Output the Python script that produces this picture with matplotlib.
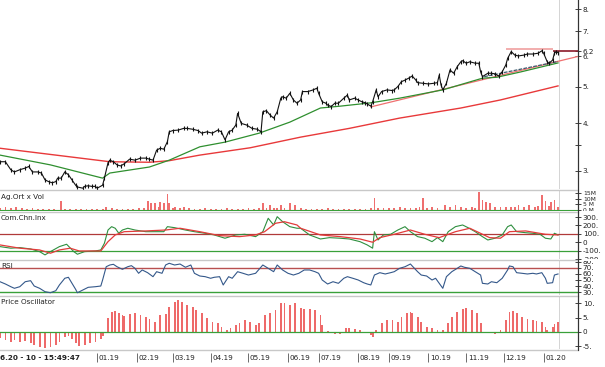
import numpy as np
import matplotlib
matplotlib.use("Agg")
import matplotlib.pyplot as plt
from matplotlib.transforms import Bbox, TransformedBbox

# ---- data ----
# trading-day index, closing price
price_day = [0, 3, 6, 8, 11, 14, 16, 18, 21, 23, 25, 27, 29, 31, 32, 34, 36, 38, 40, 42, 43, 46, 47, 49, 51,
             53, 54, 57, 58, 60, 61, 63, 65, 67, 69, 72, 75, 78, 81, 83, 85, 87, 89, 91, 93, 94, 96, 99,
             102, 104, 107, 110, 112, 115, 118, 121, 123, 125, 127, 129, 131, 132, 134, 137, 140, 143, 145,
             146, 148, 150, 152, 154, 156, 157, 159, 161, 163, 165, 167, 168, 171, 174, 176, 177, 179, 181,
             182, 184, 186, 188, 191, 193, 194, 197, 199, 201, 203, 204, 206, 207, 209, 210, 212, 215, 218,
             219, 221, 223, 225, 227, 229, 231, 232, 235, 238, 241, 243, 244, 245, 246, 248, 250, 252, 254,
             256, 257, 259, 261, 264, 266, 267, 268, 271, 273, 275, 277, 279, 281, 282, 284, 286, 288, 291,
             293, 296, 299, 301, 302, 304, 305, 307, 308, 309, 310]
price = [3.17, 3.17, 3.02, 2.98, 3.02, 3.05, 3.08, 2.98, 2.98, 2.96, 2.84, 2.81, 2.79, 2.81, 2.87, 2.87,
         2.98, 2.93, 2.84, 2.75, 2.72, 2.70, 2.73, 2.74, 2.73, 2.73, 2.70, 2.75, 2.87, 3.15, 3.20, 3.17,
         3.11, 3.09, 3.13, 3.22, 3.20, 3.24, 3.24, 3.22, 3.20, 3.40, 3.44, 3.42, 3.58, 3.80, 3.83, 3.84,
         3.88, 3.88, 3.86, 3.83, 3.77, 3.80, 3.77, 3.84, 3.80, 3.62, 3.80, 3.84, 3.96, 4.25, 4.00, 3.96,
         3.88, 3.86, 3.80, 4.29, 4.32, 4.21, 4.13, 4.29, 4.66, 4.70, 4.66, 4.80, 4.61, 4.52, 4.61, 4.85,
         4.85, 4.90, 4.95, 4.80, 4.56, 4.52, 4.47, 4.43, 4.52, 4.52, 4.66, 4.75, 4.61, 4.66, 4.61, 4.56,
         4.53, 4.50, 4.44, 4.56, 4.90, 4.70, 4.85, 4.90, 4.88, 4.90, 5.00, 5.15, 5.20, 5.26, 5.33, 5.20,
         5.12, 5.10, 5.08, 5.10, 5.12, 5.36, 5.05, 4.90, 5.10, 5.53, 5.42, 5.64, 5.81, 5.85, 5.76, 5.81,
         5.76, 5.76, 5.47, 5.31, 5.42, 5.42, 5.40, 5.33, 5.47, 5.70, 5.93, 6.18, 6.05, 6.02, 6.05, 6.09,
         6.09, 6.12, 6.21, 6.12, 5.81, 5.76, 5.87, 6.12, 6.18, 6.14]

ma_short_day = [0, 28, 57, 61, 83, 94, 111, 125, 144, 161, 178, 189, 206, 222, 246, 268, 276, 289, 310]
ma_short = [3.30, 3.11, 2.87, 2.96, 3.07, 3.20, 3.47, 3.57, 3.77, 4.03, 4.39, 4.44, 4.53, 4.66, 4.90,
            5.26, 5.29, 5.46, 5.77]
ma_long_day = [0, 61, 83, 94, 111, 139, 167, 194, 222, 256, 278, 310]
ma_long = [3.44, 3.17, 3.16, 3.19, 3.30, 3.45, 3.68, 3.88, 4.13, 4.39, 4.61, 5.02]

trend_day = [206, 321]
trend = [4.42, 6.00]
support_day = [269, 310]
support = [5.31, 5.82]
resist_day = [281, 307]
resist_level = 6.26
last_level = 6.2

price_ticks = [3, 3.5, 4, 5, 6, 6.2, 7, 8]
price_labels = ["3.", "", "4.", "5.", "6.", "6.2", "7.", "8."]

vol_day = [0, 3, 6, 9, 12, 15, 18, 21, 24, 27, 30, 34, 36, 39, 42, 45, 48, 51, 54, 57, 59, 62, 65, 68,
           71, 74, 77, 80, 82, 84, 86, 88, 89, 91, 93, 94, 96, 97, 100, 102, 105, 108, 111, 114, 117,
           120, 123, 126, 129, 132, 135, 138, 141, 144, 146, 148, 150, 152, 154, 156, 158, 161, 164,
           167, 170, 173, 176, 179, 182, 185, 188, 191, 194, 197, 200, 203, 206, 208, 210, 213, 216,
           219, 222, 225, 228, 231, 233, 235, 237, 240, 243, 247, 250, 253, 256, 259, 262, 264, 266,
           268, 270, 272, 275, 278, 281, 284, 286, 288, 291, 294, 297, 299, 301, 303, 305, 306, 308, 310]
vol = [2.0, 2.5, 1.5, 2.2, 1.8, 1.2, 1.5, 1.0, 1.3, 1.0, 1.2, 8.0, 1.0, 0.8, 1.0, 0.8, 0.7, 0.8, 0.9,
       1.2, 2.9, 1.5, 1.0, 1.2, 0.8, 1.0, 1.5, 2.0, 8.0, 6.0, 6.0, 2.5, 7.3, 6.0, 14.0, 6.0, 2.0, 3.0,
       2.0, 3.0, 1.5, 1.2, 1.0, 1.5, 1.2, 1.0, 1.3, 1.5, 1.0, 1.2, 1.0, 1.5, 1.2, 2.0, 6.0, 2.0, 4.4,
       1.5, 2.0, 4.4, 2.0, 6.0, 4.4, 1.5, 1.2, 1.0, 1.2, 1.0, 1.5, 1.0, 1.2, 1.0, 0.8, 1.0, 1.2, 1.0,
       1.5, 11.0, 2.0, 1.5, 2.0, 1.5, 2.5, 2.0, 1.5, 2.0, 2.5, 11.0, 2.0, 2.5, 2.0, 4.4, 2.5, 4.4, 3.0,
       2.0, 2.5, 2.0, 15.6, 9.0, 7.3, 6.0, 3.0, 2.5, 3.0, 2.5, 3.0, 4.4, 3.0, 4.4, 3.0, 3.5, 13.0, 8.0,
       3.5, 7.0, 9.0, 3.0]

cci_day = [0, 6, 11, 17, 22, 25, 28, 33, 37, 41, 43, 47, 53, 56, 58, 60, 62, 64, 66, 68, 71, 75, 81,
           86, 91, 93, 97, 103, 108, 114, 119, 125, 131, 136, 142, 146, 149, 152, 154, 157, 161, 165,
           167, 172, 178, 183, 189, 194, 200, 204, 207, 208, 210, 213, 217, 221, 225, 228, 232, 236,
           240, 243, 246, 249, 253, 257, 260, 264, 268, 271, 275, 279, 282, 284, 287, 292, 296, 300,
           303, 306, 308, 310]
cci = [-52, -71, -64, -80, -112, -151, -112, -52, -24, -112, -143, -112, -104, -92, -12, 146, 186, 167,
       107, 146, 167, 146, 126, 126, 126, 186, 174, 146, 126, 107, 87, 48, 87, 95, 67, 126, 286, 206,
       305, 245, 186, 167, 167, 87, 39, 55, 48, 39, 7, -32, -71, 126, 27, 87, 95, 146, 186, 126, 67, 48,
       7, 55, 7, 126, 186, 206, 174, 126, 67, 27, 48, 87, 186, 206, 126, 114, 107, 95, 48, 39, 107, 87]
cci_avg_day = [0, 11, 22, 28, 33, 39, 44, 56, 60, 64, 69, 81, 92, 100, 111, 122, 133, 142, 147, 153,
               158, 165, 167, 178, 189, 200, 207, 211, 219, 228, 236, 244, 253, 261, 272, 278, 283, 292,
               303, 310]
cci_avg = [-32, -71, -92, -131, -92, -71, -104, -104, 7, 87, 126, 135, 146, 167, 126, 79, 67, 87, 126,
           226, 245, 206, 167, 87, 67, 39, 0, 55, 95, 146, 95, 55, 126, 167, 55, 48, 126, 135, 95, 87]
cci_ticks = [-200, -100, 0, 100, 200, 300]
cci_labels = ["-200.", "-100.", "0", "100.", "200.", "300."]

rsi_day = [0, 3, 6, 8, 11, 14, 17, 19, 22, 25, 28, 31, 33, 36, 38, 40, 42, 43, 46, 49, 53, 56, 57, 59,
           61, 63, 65, 68, 71, 73, 75, 77, 79, 82, 85, 87, 90, 92, 94, 97, 100, 103, 106, 108, 111, 114,
           117, 119, 122, 124, 127, 129, 132, 135, 138, 142, 146, 149, 152, 154, 157, 160, 163, 166,
           169, 172, 175, 177, 179, 182, 185, 188, 191, 193, 196, 199, 202, 204, 206, 208, 211, 214,
           217, 219, 222, 225, 228, 229, 232, 234, 237, 240, 242, 244, 246, 248, 251, 254, 256, 258,
           261, 264, 267, 268, 271, 273, 276, 279, 282, 283, 285, 287, 290, 293, 296, 298, 301, 303,
           304, 307, 308, 310]
rsi = [47.2, 43.5, 39.1, 36.5, 39.1, 47.2, 48.9, 40.2, 36.5, 31.0, 29.3, 32.6, 41.9, 52.8, 54.4, 44.6,
       34.9, 29.3, 33.7, 38.1, 39.1, 40.2, 50.0, 71.6, 74.4, 75.5, 71.6, 67.4, 71.6, 73.3, 69.0, 60.9,
       66.3, 61.9, 55.4, 63.5, 60.9, 74.4, 77.2, 74.4, 76.0, 70.7, 74.4, 60.9, 56.5, 55.4, 52.8, 54.4,
       55.4, 41.9, 55.4, 52.8, 63.5, 60.9, 58.1, 60.9, 74.4, 69.0, 63.5, 74.4, 66.3, 60.9, 58.1, 60.9,
       66.3, 66.3, 63.5, 60.9, 50.0, 43.5, 47.2, 44.6, 52.8, 55.4, 52.8, 50.0, 45.6, 43.5, 41.9, 58.1,
       61.9, 59.8, 61.9, 63.5, 69.0, 71.6, 76.0, 72.8, 63.5, 58.1, 56.5, 50.0, 52.8, 44.6, 36.5, 55.4,
       63.5, 69.0, 72.8, 70.7, 69.0, 63.5, 58.1, 44.6, 43.5, 47.2, 45.6, 52.8, 66.3, 72.8, 71.6, 61.9,
       60.9, 59.8, 60.9, 59.8, 61.9, 52.8, 44.6, 45.6, 58.1, 59.8]
rsi_ticks = [30, 40, 50, 60, 70, 80]
rsi_labels = ["30.", "40.", "50.", "60.", "70.", "80."]

osc_day = [0, 3, 6, 8, 11, 14, 17, 19, 22, 25, 28, 31, 33, 36, 38, 40, 42, 44, 47, 50, 53, 56, 57, 60,
           62, 64, 66, 68, 69, 72, 75, 78, 81, 83, 86, 89, 92, 94, 97, 99, 101, 104, 107, 109, 112, 115,
           118, 121, 123, 126, 128, 131, 133, 136, 139, 142, 144, 147, 150, 153, 156, 158, 161, 164,
           167, 169, 172, 175, 178, 179, 182, 183, 186, 189, 192, 194, 197, 200, 203, 206, 207, 209,
           212, 215, 218, 221, 223, 226, 228, 229, 232, 234, 237, 240, 243, 246, 249, 251, 254, 257,
           259, 262, 265, 267, 269, 272, 275, 278, 281, 283, 285, 287, 290, 293, 296, 298, 301, 303,
           304, 307, 308, 310]
osc = [-2.2, -2.8, -3.4, -2.8, -3.4, -3.0, -4.0, -4.6, -5.4, -5.7, -5.4, -4.6, -3.4, -1.6, -1.4, -2.6,
       -4.0, -4.9, -4.6, -4.0, -3.4, -2.6, -1.4, 4.8, 7.1, 7.5, 6.8, 6.0, 5.6, 6.3, 6.8, 6.0, 5.4, 4.4,
       3.6, 6.0, 6.3, 8.9, 10.6, 11.2, 10.6, 9.5, 8.9, 7.7, 6.6, 4.8, 3.6, 3.0, 1.9, 0.7, 1.3, 2.5, 3.3,
       4.2, 3.6, 2.5, 3.0, 6.0, 6.6, 7.7, 10.1, 10.3, 9.5, 10.1, 8.3, 7.9, 7.9, 7.7, 6.0, 2.5, 0.5, -0.5,
       -0.7, -0.7, 1.3, 1.3, 1.0, 0.8, -0.2, -1.1, -1.6, 0.8, 3.0, 4.2, 4.2, 3.6, 5.4, 6.6, 7.1, 6.6,
       5.4, 3.6, 1.9, 1.3, 0.7, 0.7, 3.0, 5.4, 7.1, 7.9, 8.3, 7.7, 6.6, 3.0, 0.0, -0.2, -0.7, 0.7, 4.2,
       7.1, 7.5, 6.6, 5.4, 4.4, 4.2, 4.0, 3.6, 1.9, 0.7, 1.9, 2.8, 3.6]
osc_ticks = [-5, 0, 5, 10]
osc_labels = ["-5.", "0", "5.", "10."]

month_day = [54, 76, 96, 117, 138, 160, 177, 199, 216, 238, 259, 280, 302]
month_label = ["01.19", "02.19", "03.19", "04.19", "05.19", "06.19", "07.19", "08.19", "09.19",
               "10.19", "11.19", "12.19", "01.20"]

# ---- layout in pixels ----
W, H = 605, 367
RIGHT = 578
X_MAX = 321.1
END = 310.6


def box(top, bottom):
    return [0, 1 - bottom / H, RIGHT / W, (bottom - top) / H]


fig = plt.figure(figsize=(W / 100, H / 100), dpi=100)
fig.patch.set_facecolor("white")

FS = 5.2


def panel(top, bottom):
    ax = fig.add_axes(box(top, bottom))
    ax.set_xlim(0, X_MAX)
    for s in ["left", "top", "bottom"]:
        ax.spines[s].set_visible(False)
    ax.spines["right"].set_color("#333333")
    ax.spines["right"].set_linewidth(0.8)
    ax.yaxis.tick_right()
    ax.set_xticks([])
    ax.tick_params(axis="y", direction="inout", length=4, width=0.6, labelsize=FS, pad=1.5,
                   colors="#222222")
    ax.axvline(END, color="#d4d4d4", lw=0.7, zorder=0)
    ax._band = (top, bottom)
    return ax


def clip_labels(ax):
    # tick labels are cut at the panel edges, as in the reference
    top, bottom = ax._band
    bb = TransformedBbox(Bbox([[RIGHT / W, 1 - bottom / H], [1, 1 - top / H]]), fig.transFigure)
    for t in ax.yaxis.get_major_ticks():
        t.label2.set_clip_on(True)
        t.label2.set_clip_box(bb)


# price panel
ax = panel(0, 189)
ax.set_yscale("log")
ax.set_ylim(2.687, 8.45)
ax.plot(ma_long_day, ma_long, color="#e8393a", lw=1.0)
ax.plot(trend_day, trend, color="#f07070", lw=0.9)
ax.plot(ma_short_day, ma_short, color="#2f8f2f", lw=0.9)
ax.plot(support_day, support, color="#3c5a6e", lw=0.9, ls=(0, (3, 1)))
ax.hlines(resist_level, resist_day[0], resist_day[1], color="#f0a0a0", lw=1.2)
ax.hlines(last_level, resist_day[1], X_MAX, color="#8b1a2a", lw=1.2)
ax.plot(price_day, price, color="#111111", lw=0.8, marker="|", ms=3.5, mew=0.8)
ax.yaxis.set_minor_locator(matplotlib.ticker.NullLocator())
ax.set_yticks(price_ticks)
ax.set_yticklabels(price_labels)

# volume
ax = panel(191, 211)
ax.set_ylim(-0.9, 16.8)
ax.bar(vol_day, vol, width=1.0, color="#ef6f6f", lw=0)
ax.axhline(0, color="#3aa03a", lw=0.8)
ax.set_yticks([0, 5, 10, 15])
ax.set_yticklabels(["0 M", "5 M", "10M", "15M"])
ax.tick_params(axis="y", labelsize=4.3)
clip_labels(ax)

# CCI
ax = panel(212, 259)
ax.set_ylim(-199, 361)
ax.axhline(100, color="#b03a3a", lw=0.9)
ax.axhline(-100, color="#3aa03a", lw=0.9)
ax.plot(cci_day, cci, color="#2f8f3f", lw=0.8)
ax.plot(cci_avg_day, cci_avg, color="#e33b3b", lw=0.9)
ax.set_yticks(cci_ticks)
ax.set_yticklabels(cci_labels)
clip_labels(ax)

# RSI
ax = panel(261, 295)
ax.set_ylim(25.6, 80.9)
ax.axhline(70, color="#b85050", lw=1.0)
ax.axhline(30, color="#3aa03a", lw=1.0)
ax.plot(rsi_day, rsi, color="#34588a", lw=0.8)
ax.set_yticks(rsi_ticks)
ax.set_yticklabels(rsi_labels)
clip_labels(ax)

# price oscillator
ax = panel(296, 349)
ax.set_ylim(-5.96, 12.6)
ax.bar(osc_day, osc, width=1.0, color="#ee6a6a", lw=0)
ax.axhline(0, color="#3aa03a", lw=0.9)
ax.set_yticks(osc_ticks)
ax.set_yticklabels(osc_labels)

# separators between panels
for y in [189.5, 211.5, 259.8, 295.5, 349.5]:
    fig.add_artist(plt.Line2D([0, RIGHT / W], [1 - y / H, 1 - y / H], color="#c8c8c8", lw=1.0))

# date axis
axd = fig.add_axes([0, 0, RIGHT / W, 17 / H])
axd.set_xlim(0, X_MAX)
axd.set_ylim(0, 1)
axd.axis("off")
axd.vlines(month_day, 0.3, 0.85, color="#555555", lw=0.6)
for d, lab in zip(month_day, month_label):
    axd.text(d + 0.8, 0.55, lab, fontsize=FS, va="center", ha="left", color="#222222")
fig.add_artist(plt.Line2D([RIGHT / W, RIGHT / W], [17 / H, 1], color="#333333", lw=0.8))


# titles
def label(x, y, s, **kw):
    fig.text(x / W, 1 - y / H, s, fontsize=FS, va="center", ha="left", color="#222222", **kw)


label(1, 197, "Ag.Ort x Vol")
label(1, 218, "Com.Chn.Inx")
label(1, 266, "RSI")
label(1, 302, "Price Oscillator")
label(0, 358, "6.20 - 10 - 15:49:47", fontweight="bold")

fig.savefig("out.png", dpi=100, facecolor="white")
